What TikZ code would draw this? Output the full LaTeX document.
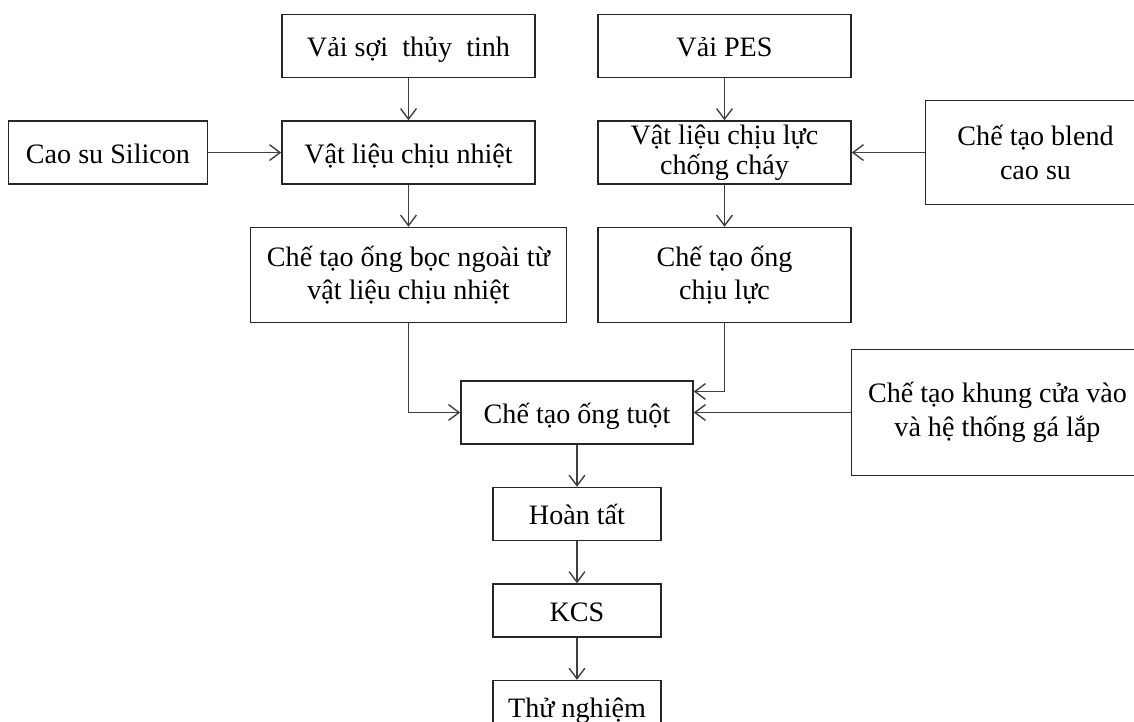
\documentclass[tikz,border=0pt]{standalone}
\usepackage{fontspec}
\setmainfont{Liberation Serif}
\usepackage{tikz}
\usetikzlibrary{positioning, arrows.meta}

\begin{document}
\begin{tikzpicture}[
		x=0.02cm, y=-0.02cm,
		node distance=0.84cm and 1.46cm,
		box/.style={draw=black!85, line width=0.9pt, rectangle, minimum width=5.06cm, minimum height=1.26cm, inner sep=1pt, align=center, font=\fontsize{16}{19.3}\selectfont},
		oneline/.style={text height=16pt, text depth=4pt},
		tall/.style={minimum height=1.9cm},
		small/.style={minimum width=3.36cm, minimum height=1.06cm},
		arrow/.style={-{Straight Barb[length=6pt, width=9pt]}, draw=black!75, line width=0.8pt}
	]
	\useasboundingbox (0,0) rectangle (1134,722);

	% Left branch
	\node[box, oneline] (vaisoi) at (408.5,46) {Vải sợi~ thủy~ tinh};
	\node[box, oneline, below=of vaisoi] (nhiet) {Vật liệu chịu nhiệt};
	\node[box, oneline, left=of nhiet, minimum width=3.98cm] (silicon) {Cao su Silicon};
	\node[box, tall, below=of nhiet, minimum width=6.32cm] (ongboc) {Chế tạo ống bọc ngoài từ\\vật liệu chịu nhiệt};

	% Right branch
	\node[box, oneline] (pes) at (724.5,46) {Vải PES};
	\node[box, below=of pes, font=\fontsize{16}{17}\selectfont, inner sep=0pt] (luc) {Vật liệu chịu lực\\chống cháy};
	\node[box, right=of luc, minimum width=4.4cm, minimum height=2.08cm] (blend) {Chế tạo blend\\cao su};
	\node[box, tall, below=of luc] (ongluc) {Chế tạo ống\\chịu lực};

	% Assembly
	\node[box, oneline, minimum width=4.64cm] (ongtuot) at (577,412.5) {Chế tạo ống tuột};
	\node[box, right=3.14cm of ongtuot, minimum width=5.84cm, minimum height=2.52cm] (khung) {Chế tạo khung cửa vào\\và hệ thống gá lắp};
	\node[box, small, oneline, below=of ongtuot] (hoantat) {Hoàn tất};
	\node[box, small, oneline, below=of hoantat] (kcs) {KCS};
	\node[box, small, oneline, below=of kcs] (thunghiem) {Thử nghiệm};

	% Arrows
	\draw[arrow] (vaisoi) -- (nhiet);
	\draw[arrow] (silicon) -- (nhiet);
	\draw[arrow] (nhiet) -- (ongboc);
	\draw[arrow] (pes) -- (luc);
	\draw[arrow] (blend) -- (luc);
	\draw[arrow] (luc) -- (ongluc);
	\draw[arrow] (ongboc.south) |- (ongtuot.west);
	\draw[arrow] (ongluc.south) |- ([yshift=0.42cm]ongtuot.east);
	\draw[arrow] (khung) -- (ongtuot);
	\draw[arrow] (ongtuot) -- (hoantat);
	\draw[arrow] (hoantat) -- (kcs);
	\draw[arrow] (kcs) -- (thunghiem);

\end{tikzpicture}
\end{document}
